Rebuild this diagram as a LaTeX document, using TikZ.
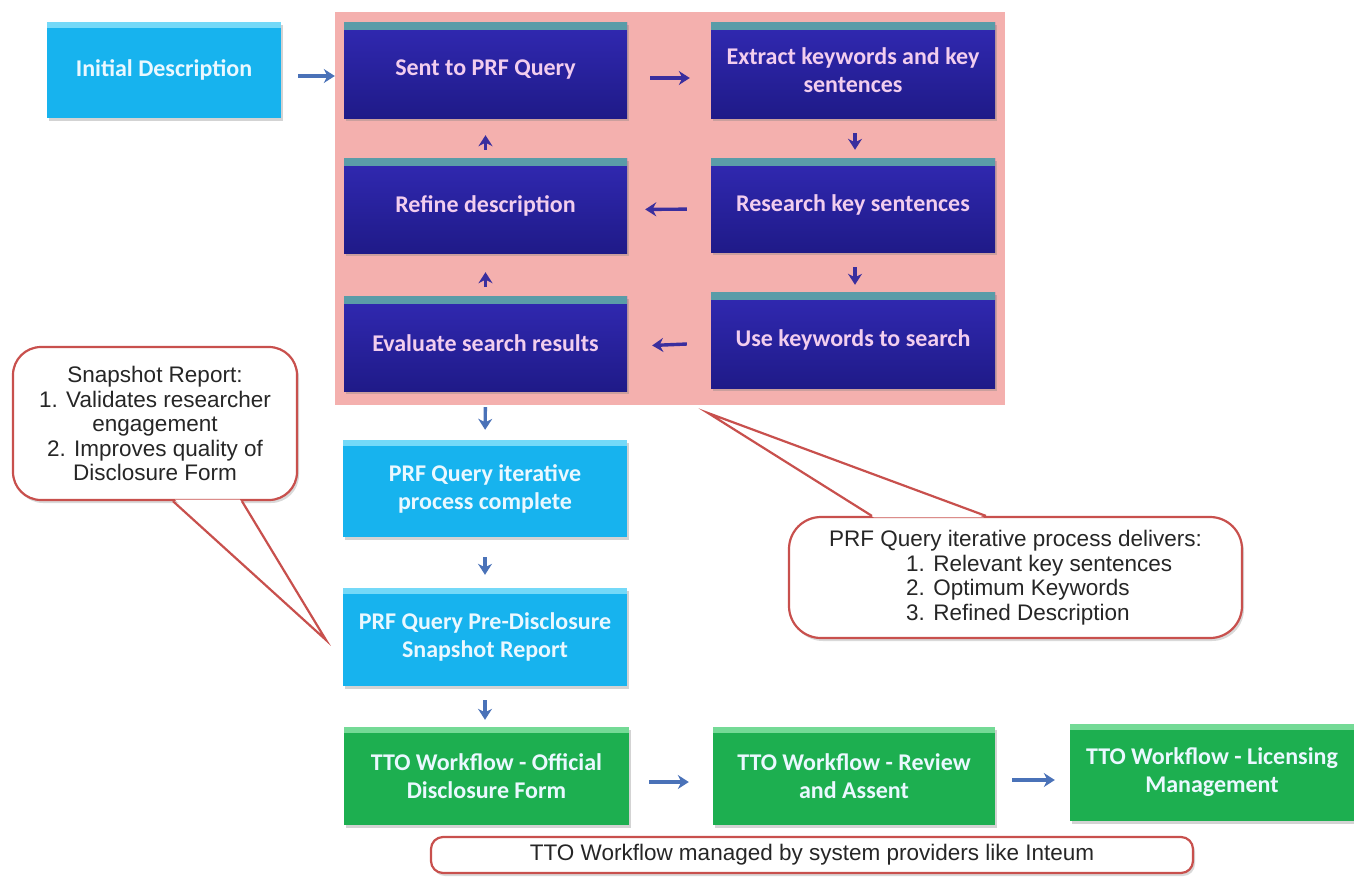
\documentclass[tikz,border=0pt]{standalone}
\usepackage{fontspec}
\setmainfont{Liberation Sans}
\newfontfamily\boxfont{Carlito}
\usetikzlibrary{shadows,arrows.meta,calc}
\definecolor{pinkbg}{HTML}{F4B0AE}
\definecolor{blueT}{HTML}{3129B2}
\definecolor{blueB}{HTML}{1F1A88}
\definecolor{blueBand}{HTML}{5A9CA8}
\definecolor{blueText}{HTML}{F2CDEE}
\definecolor{cyanF}{HTML}{17B3EE}
\definecolor{cyanBand}{HTML}{74D9F8}
\definecolor{greenF}{HTML}{1DAF50}
\definecolor{greenBand}{HTML}{74DA96}
\definecolor{lightText}{HTML}{EAF8FF}
\definecolor{steel}{HTML}{4A72B8}
\definecolor{navy}{HTML}{3A2E9E}
\definecolor{callred}{HTML}{C8504D}
\begin{document}
\begin{tikzpicture}[x=1pt,y=-1pt,
  basebox/.style={rectangle, inner sep=4pt, align=center,
    font=\boxfont\bfseries\fontsize{24}{28}\selectfont,
    drop shadow={opacity=0.35,shadow xshift=2pt,shadow yshift=-3pt}},
  bluebox/.style={basebox, top color=blueT, bottom color=blueB, text=blueText,
    path picture={\fill[blueBand] (path picture bounding box.north west) rectangle ([yshift=-8pt]path picture bounding box.north east);}},
  cyanbox/.style={basebox, fill=cyanF, text=lightText,
    path picture={\fill[cyanBand] (path picture bounding box.north west) rectangle ([yshift=-6pt]path picture bounding box.north east);}},
  greenbox/.style={basebox, fill=greenF, text=lightText,
    path picture={\fill[greenBand] (path picture bounding box.north west) rectangle ([yshift=-6pt]path picture bounding box.north east);}},
  arrout/.style={-{Stealth[length=11pt,width=14pt]}, line width=3.4pt, draw=steel},
  arrin/.style={-{Stealth[length=11pt,width=14pt]}, line width=3.4pt, draw=navy},
  callout/.style={draw=callred, line width=2.2pt, fill=white, text=black!85,
    font=\fontsize{22.5}{24.5}\selectfont,
    drop shadow={opacity=0.3,shadow xshift=2pt,shadow yshift=-3pt}},
  callline/.style={draw=callred, line width=2.2pt, line join=miter}
]
\useasboundingbox (0,0) rectangle (1354,876);
\fill[pinkbg] (335,12) rectangle (1005,405);

\node[cyanbox, minimum width=234pt, minimum height=96pt] (init) at (164,70) {Initial Description};
\node[bluebox, minimum width=283pt, minimum height=96pt] (sent) at (485.5,70) {Sent to PRF Query};
\node[bluebox, minimum width=284pt, minimum height=96pt] (extract) at (853,70) {Extract keywords and key\\sentences};
\node[bluebox, minimum width=283pt, minimum height=95pt] (refine) at (485.5,205.5) {Refine description};
\node[bluebox, minimum width=284pt, minimum height=94pt] (research) at (853,205) {Research key sentences};
\node[bluebox, minimum width=283pt, minimum height=95pt] (evaluate) at (485.5,343.5) {Evaluate search results};
\node[bluebox, minimum width=284pt, minimum height=96pt] (usekw) at (853,340) {Use keywords to search};
\node[cyanbox, minimum width=284pt, minimum height=97pt] (complete) at (485,488.5) {PRF Query iterative\\process complete};
\node[cyanbox, minimum width=284pt, minimum height=98pt] (snapshot) at (485,637) {PRF Query Pre-Disclosure\\Snapshot Report};
\node[greenbox, minimum width=285pt, minimum height=98pt] (tto1) at (486.5,776) {TTO Workflow - Official\\Disclosure Form};
\node[greenbox, minimum width=282pt, minimum height=98pt] (tto2) at (854,776) {TTO Workflow - Review\\and Assent};
\node[greenbox, minimum width=284pt, minimum height=97pt] (tto3) at (1212,772.5) {TTO Workflow - Licensing\\Management};

% arrows
\draw[arrout, shorten <=17pt, shorten >=9pt] ([yshift=-6pt]init.east) -- ([yshift=-6pt]sent.west);
\draw[arrin, shorten <=23pt, shorten >=21pt] ([yshift=-8pt]sent.east) -- ([yshift=-8pt]extract.west);
\draw[arrin, shorten <=15pt, shorten >=8pt] ([xshift=2pt]extract.south) -- ([xshift=2pt]research.north);
\draw[arrin, shorten <=24pt, shorten >=18pt] ([yshift=-4pt]research.west) -- ([yshift=-4pt]refine.east);
\draw[arrin, shorten <=15pt, shorten >=7pt] ([xshift=2pt]research.south) -- ([xshift=2pt]usekw.north);
\draw[arrin, shorten <=24pt, shorten >=25pt] ([yshift=-3pt]usekw.west) -- ([yshift=-3pt]evaluate.east);
\draw[arrin, shorten <=9pt, shorten >=19pt] (evaluate.north) -- (refine.south);
\draw[arrin, shorten <=8pt, shorten >=17pt] (refine.north) -- (sent.south);
\draw[arrout, shorten <=16pt, shorten >=10pt] (evaluate.south) -- (complete.north);
\draw[arrout, shorten <=20pt, shorten >=13pt] (complete.south) -- (snapshot.north);
\draw[arrout, shorten <=14pt, shorten >=7pt] (snapshot.south) -- ([xshift=-1.5pt]tto1.north);
\draw[arrout, shorten <=20pt, shorten >=24pt] ([yshift=-6pt]tto1.east) -- ([yshift=-6pt]tto2.west);
\draw[arrout, shorten <=17pt, shorten >=15pt] ([yshift=-4pt]tto2.east) -- ([yshift=-7.5pt]tto3.west);

% callouts
\node[callout, rounded corners=28pt, minimum width=284pt, minimum height=153pt, align=center, anchor=center] (snapcall) at (155,423.5)
  {Snapshot Report:\\1. Validates researcher\\engagement\\2. Improves quality of\\Disclosure Form};
\coordinate (snaptip) at (326,640);
\fill[white] ([xshift=163pt,yshift=1.5pt]snapcall.south west) -- (snaptip) -- ([xshift=228pt,yshift=1.5pt]snapcall.south west) -- cycle;
\draw[callline] ([xshift=161pt]snapcall.south west) -- (snaptip) -- ([xshift=230pt]snapcall.south west);

\node[callout, rounded corners=32pt, minimum width=453pt, minimum height=121pt, align=left] (delcall) at (1015.5,577.5)
  {PRF Query iterative process delivers:\\\hspace*{77pt}1. Relevant key sentences\\\hspace*{77pt}2. Optimum Keywords\\\hspace*{77pt}3. Refined Description};
\coordinate (deltip) at (708,413);
\fill[white] ([xshift=86pt,yshift=-1.5pt]delcall.north west) -- (deltip) -- ([xshift=196pt,yshift=-1.5pt]delcall.north west) -- cycle;
\draw[callline] ([xshift=84pt]delcall.north west) -- (deltip) -- ([xshift=198pt]delcall.north west);

\node[callout, rounded corners=12pt, minimum width=762pt, minimum height=36pt] (ttocall) at (812,855)
  {TTO Workflow managed by system providers like Inteum};
\end{tikzpicture}
\end{document}
